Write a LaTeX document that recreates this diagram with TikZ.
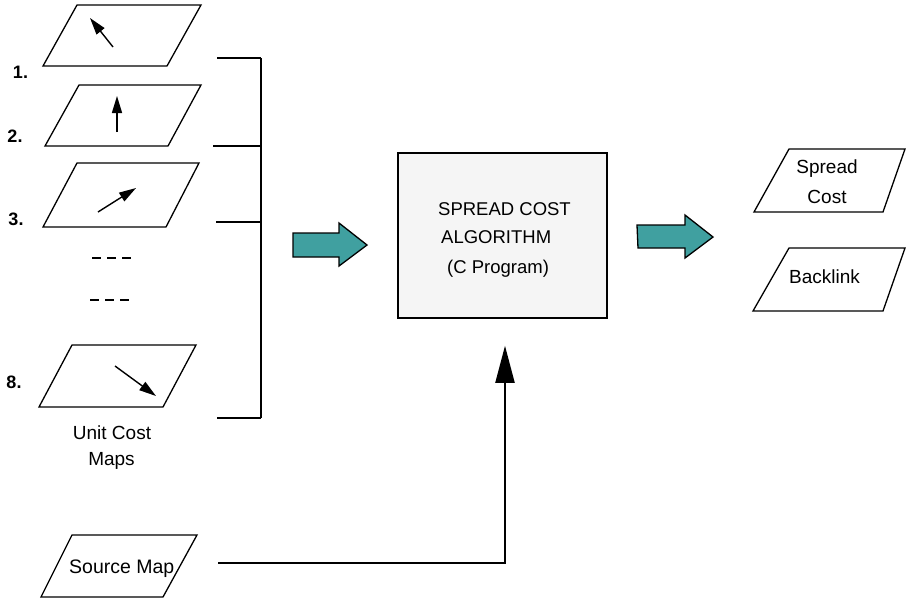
\documentclass[tikz,border=0pt]{standalone}
\usepackage{fontspec}
\setmainfont{Liberation Sans}
\usetikzlibrary{arrows.meta,calc}

\definecolor{tealfill}{RGB}{64,160,160}
\definecolor{boxfill}{RGB}{245,245,245}

\tikzset{
  sheet/.style={draw=black, line width=1.3pt, line join=miter},
  dirarrow/.style={line width=1.4pt, -{Triangle[length=17pt,width=10pt]}},
  txt/.style={inner sep=0pt, anchor=base, font=\fontsize{19}{21}\selectfont},
  boxtxt/.style={inner sep=0pt, anchor=base west, font=\fontsize{18.5}{21}\selectfont},
  numlabel/.style={inner sep=0pt, anchor=base, font=\fontsize{18}{20}\selectfont\bfseries},
  bigarrow/.style={fill=tealfill, draw=black, line width=1.3pt, line join=miter},
  bracketline/.style={line width=2pt},
  feedline/.style={line width=2pt, -{Triangle[length=37pt,width=19pt]}},
  algobox/.style={draw=black, fill=boxfill, line width=1.5pt, inner sep=0pt,
                  minimum width=209pt, minimum height=165pt},
}

% map sheet: name, top y, bottom y, top-left x, top-right x, bottom-left x, bottom-right x
\newcommand\mapsheet[7]{%
  \draw[sheet] (#4,#2) -- (#5,#2) -- (#7,#3) -- (#6,#3) -- cycle;
  \coordinate (#1) at ({(#4+#5+#6+#7)/4},{(#2+#3)/2});
}

\begin{document}
\begin{tikzpicture}[x=1pt,y=-1pt]
  \useasboundingbox (0,0) rectangle (911,598);

  % unit cost map sheets with their directions
  \mapsheet{m1}{5}{66}{77}{201}{43}{167}
  \mapsheet{m2}{85}{146}{79}{201}{45}{168}
  \mapsheet{m3}{163}{227}{77}{199}{43}{166}
  \mapsheet{m8}{345}{407}{72}{196}{39}{163}

  \draw[dirarrow] (113,47) -- (90,18);
  \draw[dirarrow] (117,132) -- (117,96);
  \draw[dirarrow] (98,212) -- (136,188);
  \draw[dirarrow] (115,366) -- (156,396);

  \node[numlabel] (n1) at (20.5,78) {1.};
  \node[numlabel] (n2) at (15,142) {2.};
  \node[numlabel] (n3) at (16,225) {3.};
  \node[numlabel] (n8) at (14,388) {8.};

  % omitted sheets
  \draw[line width=1.5pt, dash pattern=on 9pt off 6pt] (92,258) -- (134,258);
  \draw[line width=1.5pt, dash pattern=on 9pt off 6pt] (90,300) -- (132,300);

  \node[txt] (ucost) at (112,439) {Unit Cost};
  \node[txt] (umaps) at (111.5,465) {Maps};

  % bracket gathering the sheets
  \draw[bracketline] (261,58) -- (261,418);
  \draw[bracketline] (217,58) -- (261,58);
  \draw[bracketline] (213,146) -- (261,146);
  \draw[bracketline] (216,222) -- (261,222);
  \draw[bracketline] (217,418) -- (261,418);

  % input arrow
  \draw[bigarrow] (293,233) -- (339,233) -- (339,223) -- (367,245)
                  -- (339,266) -- (339,257) -- (293,257) -- cycle;

  % algorithm box
  \node[algobox] (algo) at (502.5,235.5) {};
  \node[boxtxt] (t1) at (438,215) {SPREAD COST};
  \node[boxtxt] (t2) at (441,243) {ALGORITHM};
  \node[boxtxt] (t3) at (447,273) {(C Program)};

  % output arrow
  \draw[bigarrow] (637,225) -- (685,225) -- (685,215) -- (713,237)
                  -- (685,258) -- (685,248) -- (638,248) -- cycle;

  % outputs
  \mapsheet{spread}{149}{212}{789}{905}{754}{883}
  \node[txt] (sp1) at (827,173) {Spread};
  \node[txt] (sp2) at (827,203) {Cost};
  \mapsheet{back}{248}{311}{789}{905}{753}{883}
  \node[txt] (bl) at (824.5,283) {Backlink};

  % source map feeding the algorithm
  \mapsheet{src}{535}{597}{72}{197}{41}{163}
  \node[txt, anchor=base west, font=\fontsize{19.5}{21}\selectfont] (srctext) at (69,573) {Source Map};
  \coordinate (srcout) at (218,563);
  \coordinate (tap) at ($(algo.south)+(2.5,27)$);
  \draw[feedline] (srcout) -| (tap);
\end{tikzpicture}
\end{document}
